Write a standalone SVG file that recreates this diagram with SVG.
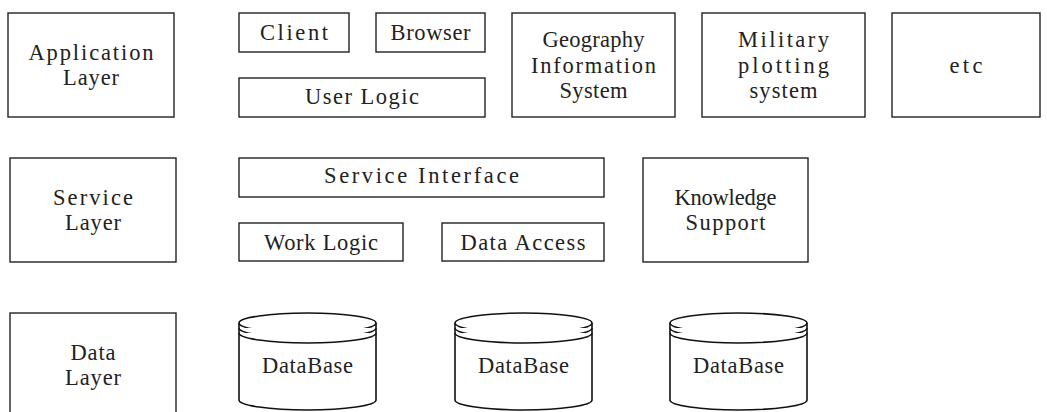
<svg xmlns="http://www.w3.org/2000/svg" width="1047" height="412" viewBox="0 0 1047 412">
<defs>
<style>
.box{fill:#fff;stroke:#222;stroke-width:1.4}
.cyl{fill:#fff;stroke:#111;stroke-width:1.6}
.t{font-family:"Liberation Serif","DejaVu Serif",serif;font-size:22.5px;fill:#222;text-anchor:middle}
</style>
<g id="cylShape">
<path class="cyl" d="M0,10 L0,87 A68.5,10 0 0 0 137,87 L137,10"/>
<ellipse class="cyl" cx="68.5" cy="10" rx="68.5" ry="10"/>
<path class="cyl" fill="none" d="M0,15 A68.5,10 0 0 0 137,15"/>
<path class="cyl" fill="none" d="M0,20 A68.5,10 0 0 0 137,20"/>
</g>
</defs>
<rect width="1047" height="412" fill="#fff"/>
<g id="connectors"></g>

<g id="app-layer"><rect class="box" x="8" y="13" width="166" height="104"/><text class="t" x="91" y="60" textLength="125">Application</text><text class="t" x="91" y="85" textLength="56">Layer</text></g>
<g id="client"><rect class="box" x="239" y="13" width="110" height="39"/><text class="t" x="294" y="40" textLength="68">Client</text></g>
<g id="browser"><rect class="box" x="376" y="13" width="109" height="39"/><text class="t" x="430.5" y="40" textLength="80">Browser</text></g>
<g id="user-logic"><rect class="box" x="239" y="78" width="246" height="39"/><text class="t" x="362" y="104" textLength="114">User Logic</text></g>
<g id="gis"><rect class="box" x="512" y="13" width="163" height="104"/><text class="t" x="593.5" y="47" textLength="102">Geography</text><text class="t" x="593.5" y="73" textLength="125">Information</text><text class="t" x="593.5" y="98" textLength="68">System</text></g>
<g id="military"><rect class="box" x="702" y="13" width="163" height="104"/><text class="t" x="783.5" y="47" textLength="91">Military</text><text class="t" x="783.5" y="73" textLength="91">plotting</text><text class="t" x="783.5" y="98" textLength="68">system</text></g>
<g id="etc"><rect class="box" x="892" y="13" width="148" height="104"/><text class="t" x="966" y="73" textLength="33">etc</text></g>

<g id="service-layer"><rect class="box" x="10" y="158" width="166" height="104"/><text class="t" x="93" y="205" textLength="80">Service</text><text class="t" x="93" y="230" textLength="56">Layer</text></g>
<g id="service-interface"><rect class="box" x="239" y="158" width="365" height="39"/><text class="t" x="421.5" y="183" textLength="195">Service Interface</text></g>
<g id="work-logic"><rect class="box" x="239" y="223" width="164" height="38"/><text class="t" x="321" y="250" textLength="114">Work Logic</text></g>
<g id="data-access"><rect class="box" x="442" y="223" width="162" height="38"/><text class="t" x="523" y="250" textLength="125">Data Access</text></g>
<g id="knowledge"><rect class="box" x="643" y="158" width="165" height="104"/><text class="t" x="725.5" y="205" textLength="102">Knowledge</text><text class="t" x="725.5" y="230" textLength="80">Support</text></g>

<g id="data-layer"><rect class="box" x="10" y="313" width="166" height="110"/><text class="t" x="93" y="360" textLength="45">Data</text><text class="t" x="93" y="385" textLength="56">Layer</text></g>
<g id="db1"><use href="#cylShape" x="239" y="313"/><text class="t" x="307.5" y="373" textLength="91">DataBase</text></g>
<g id="db2"><use href="#cylShape" x="455" y="313"/><text class="t" x="523.5" y="373" textLength="91">DataBase</text></g>
<g id="db3"><use href="#cylShape" x="670" y="313"/><text class="t" x="738.5" y="373" textLength="91">DataBase</text></g>
</svg>
